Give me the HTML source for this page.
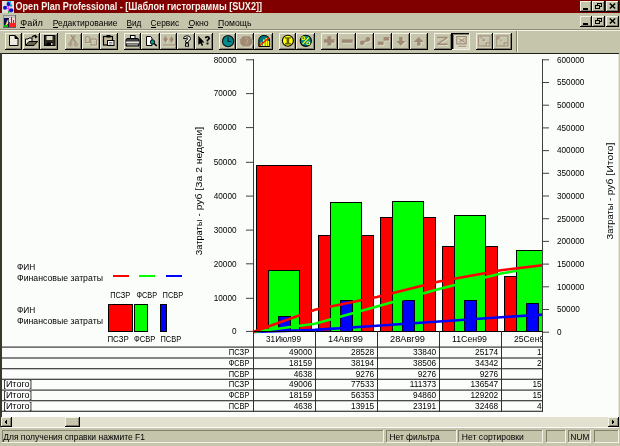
<!DOCTYPE html>
<html><head><meta charset="utf-8"><style>
html,body{margin:0;padding:0;width:620px;height:446px;overflow:hidden;background:#c5c5ab}
svg{display:block;will-change:transform}
</style></head><body>
<svg width="620" height="446" viewBox="0 0 620 446" shape-rendering="crispEdges">
<rect x="0" y="0" width="620" height="446" fill="#c5c5ab" /><rect x="0" y="0" width="620" height="13" fill="#800000" /><rect x="2" y="1" width="12" height="12" fill="#e0e0e0" /><rect x="7" y="1" width="4" height="2" fill="#30d0f0" /><g shape-rendering="auto"><path d="M5 7 L11 5 M6 8 L11 10 M8.5 4 L9 12" stroke="#e040e0" stroke-width="1.2"/><circle cx="8.5" cy="4" r="2" fill="#0818c8"/><circle cx="5" cy="7.8" r="2" fill="#0818c8"/><circle cx="11.2" cy="10.3" r="2.1" fill="#0818c8"/><circle cx="11" cy="5.5" r="1.2" fill="#00a0d0"/><circle cx="8.8" cy="12" r="0.9" fill="#00b000"/></g><text x="15.5" y="10.0" font-family="Liberation Sans" font-size="10.6" font-weight="bold" textLength="246.5" lengthAdjust="spacingAndGlyphs" fill="#f4f4ec" >Open Plan Professional - [Шаблон гистограммы [SUX2]]</text><rect x="580" y="1" width="12" height="11" fill="#c5c5ab" /><rect x="580" y="1" width="12" height="1" fill="#f2f1e4" /><rect x="580" y="1" width="1" height="11" fill="#f2f1e4" /><rect x="580" y="11" width="12" height="1" fill="#000" /><rect x="591" y="1" width="1" height="11" fill="#000" /><rect x="581" y="10" width="10" height="1" fill="#83816e" /><rect x="590" y="2" width="1" height="9" fill="#83816e" /><rect x="592" y="1" width="13" height="11" fill="#c5c5ab" /><rect x="592" y="1" width="13" height="1" fill="#f2f1e4" /><rect x="592" y="1" width="1" height="11" fill="#f2f1e4" /><rect x="592" y="11" width="13" height="1" fill="#000" /><rect x="604" y="1" width="1" height="11" fill="#000" /><rect x="593" y="10" width="11" height="1" fill="#83816e" /><rect x="603" y="2" width="1" height="9" fill="#83816e" /><rect x="606" y="1" width="13" height="11" fill="#c5c5ab" /><rect x="606" y="1" width="13" height="1" fill="#f2f1e4" /><rect x="606" y="1" width="1" height="11" fill="#f2f1e4" /><rect x="606" y="11" width="13" height="1" fill="#000" /><rect x="618" y="1" width="1" height="11" fill="#000" /><rect x="607" y="10" width="11" height="1" fill="#83816e" /><rect x="617" y="2" width="1" height="9" fill="#83816e" /><rect x="583" y="8" width="5" height="2" fill="#000" /><rect x="597.5" y="3.5" width="4" height="3" fill="none" stroke="#000" stroke-width="1"/><rect x="597" y="3" width="5" height="1" fill="#000" /><rect x="595.5" y="5.5" width="4" height="3" fill="#c5c5ab" stroke="#000" stroke-width="1"/><rect x="595" y="5" width="5" height="1" fill="#000" /><path d="M609.8 3.5 L615.2 8.5 M615.2 3.5 L609.8 8.5" stroke="#000" stroke-width="1.5" shape-rendering="auto"/><rect x="3" y="15" width="13" height="13" fill="#c8c8c0" /><rect x="3" y="15" width="13" height="1" fill="#909090" /><rect x="3" y="15" width="1" height="13" fill="#909090" /><rect x="3" y="27" width="13" height="1" fill="#606060" /><rect x="15" y="15" width="1" height="13" fill="#606060" /><rect x="4" y="18" width="5" height="9" fill="#101050" /><path d="M5 26 L7 21 L8.5 19 L8 24 Z" fill="#f0e070" shape-rendering="auto"/><rect x="4" y="25" width="4" height="2" fill="#00c000" /><rect x="9" y="18" width="6" height="9" fill="#f8d0d0" /><path d="M9 27 V22 H10 V27 M11 27 V17 H12 V27 M13 27 V20 H14 V27" fill="#ff0000"/><rect x="9" y="23" width="6" height="4" fill="#ff2020" /><text x="20.3" y="25.8" font-family="Liberation Sans" font-size="9.4" textLength="22.6" lengthAdjust="spacingAndGlyphs" fill="#000" >Файл</text><rect x="20.3" y="26.6" width="5" height="1" fill="#000" /><text x="52.8" y="25.8" font-family="Liberation Sans" font-size="9.4" textLength="64.8" lengthAdjust="spacingAndGlyphs" fill="#000" >Редактирование</text><rect x="52.8" y="26.6" width="5" height="1" fill="#000" /><text x="126.5" y="25.8" font-family="Liberation Sans" font-size="9.4" textLength="14.9" lengthAdjust="spacingAndGlyphs" fill="#000" >Вид</text><rect x="126.5" y="26.6" width="5" height="1" fill="#000" /><text x="150.6" y="25.8" font-family="Liberation Sans" font-size="9.4" textLength="28.5" lengthAdjust="spacingAndGlyphs" fill="#000" >Сервис</text><rect x="150.6" y="26.6" width="5" height="1" fill="#000" /><text x="188.4" y="25.8" font-family="Liberation Sans" font-size="9.4" textLength="20.3" lengthAdjust="spacingAndGlyphs" fill="#000" >Окно</text><rect x="188.4" y="26.6" width="5" height="1" fill="#000" /><text x="218" y="25.8" font-family="Liberation Sans" font-size="9.4" textLength="33.4" lengthAdjust="spacingAndGlyphs" fill="#000" >Помощь</text><rect x="218" y="26.6" width="5" height="1" fill="#000" /><rect x="580" y="16" width="12" height="11" fill="#c5c5ab" /><rect x="580" y="16" width="12" height="1" fill="#f2f1e4" /><rect x="580" y="16" width="1" height="11" fill="#f2f1e4" /><rect x="580" y="26" width="12" height="1" fill="#000" /><rect x="591" y="16" width="1" height="11" fill="#000" /><rect x="581" y="25" width="10" height="1" fill="#83816e" /><rect x="590" y="17" width="1" height="9" fill="#83816e" /><rect x="592" y="16" width="13" height="11" fill="#c5c5ab" /><rect x="592" y="16" width="13" height="1" fill="#f2f1e4" /><rect x="592" y="16" width="1" height="11" fill="#f2f1e4" /><rect x="592" y="26" width="13" height="1" fill="#000" /><rect x="604" y="16" width="1" height="11" fill="#000" /><rect x="593" y="25" width="11" height="1" fill="#83816e" /><rect x="603" y="17" width="1" height="9" fill="#83816e" /><rect x="606" y="16" width="13" height="11" fill="#c5c5ab" /><rect x="606" y="16" width="13" height="1" fill="#f2f1e4" /><rect x="606" y="16" width="1" height="11" fill="#f2f1e4" /><rect x="606" y="26" width="13" height="1" fill="#000" /><rect x="618" y="16" width="1" height="11" fill="#000" /><rect x="607" y="25" width="11" height="1" fill="#83816e" /><rect x="617" y="17" width="1" height="9" fill="#83816e" /><rect x="583" y="23" width="5" height="2" fill="#000" /><rect x="597.5" y="18.5" width="4" height="3" fill="none" stroke="#000" stroke-width="1"/><rect x="597" y="18" width="5" height="1" fill="#000" /><rect x="595.5" y="20.5" width="4" height="3" fill="#c5c5ab" stroke="#000" stroke-width="1"/><rect x="595" y="20" width="5" height="1" fill="#000" /><path d="M609.8 18.5 L615.2 23.5 M615.2 18.5 L609.8 23.5" stroke="#000" stroke-width="1.5" shape-rendering="auto"/><rect x="0" y="29" width="620" height="1" fill="#8e8c78" /><rect x="0" y="30" width="620" height="1" fill="#f2f1e4" /><rect x="5" y="33" width="17" height="17" fill="#c5c5ab" /><rect x="5" y="33" width="17" height="1" fill="#f2f1e4" /><rect x="5" y="33" width="1" height="17" fill="#f2f1e4" /><rect x="5" y="49" width="17" height="1" fill="#000" /><rect x="21" y="33" width="1" height="17" fill="#000" /><rect x="6" y="48" width="15" height="1" fill="#83816e" /><rect x="20" y="34" width="1" height="15" fill="#83816e" /><g shape-rendering="auto"><path d="M9.5 35.5 H15 L18 38.5 V45.5 H9.5 Z" fill="#ecebdf" stroke="#000"/><path d="M15 35.5 L18 38.5 H15 Z" fill="#000" stroke="#000"/></g><rect x="23" y="33" width="17" height="17" fill="#c5c5ab" /><rect x="23" y="33" width="17" height="1" fill="#f2f1e4" /><rect x="23" y="33" width="1" height="17" fill="#f2f1e4" /><rect x="23" y="49" width="17" height="1" fill="#000" /><rect x="39" y="33" width="1" height="17" fill="#000" /><rect x="24" y="48" width="15" height="1" fill="#83816e" /><rect x="38" y="34" width="1" height="15" fill="#83816e" /><g shape-rendering="auto"><path d="M25.5 45 V39 H28 L29 38 H32 V41" fill="#ecead8" stroke="#000"/><path d="M25.5 45.5 L29 41.5 H37.5 L34 45.5 Z" fill="#6c6448" stroke="#000"/><path d="M32 37.5 Q33.5 35 36 36" fill="none" stroke="#000" stroke-width="1.3"/><path d="M35 34.5 L37.8 37 L35 38.5 Z" fill="#000"/></g><rect x="40" y="33" width="18" height="17" fill="#c5c5ab" /><rect x="40" y="33" width="18" height="1" fill="#f2f1e4" /><rect x="40" y="33" width="1" height="17" fill="#f2f1e4" /><rect x="40" y="49" width="18" height="1" fill="#000" /><rect x="57" y="33" width="1" height="17" fill="#000" /><rect x="41" y="48" width="16" height="1" fill="#83816e" /><rect x="56" y="34" width="1" height="15" fill="#83816e" /><g shape-rendering="auto"><rect x="44.5" y="35.5" width="10.5" height="10" fill="#2c2a1e" stroke="#000"/><rect x="46.5" y="36" width="6" height="4" fill="#dcd8c4"/><rect x="46.5" y="42.5" width="6" height="3" fill="#000"/><rect x="51" y="43" width="1.5" height="2" fill="#c8c4b0"/></g><rect x="65" y="33" width="17" height="17" fill="#c5c5ab" /><rect x="65" y="33" width="17" height="1" fill="#f2f1e4" /><rect x="65" y="33" width="1" height="17" fill="#f2f1e4" /><rect x="65" y="49" width="17" height="1" fill="#000" /><rect x="81" y="33" width="1" height="17" fill="#000" /><rect x="66" y="48" width="15" height="1" fill="#83816e" /><rect x="80" y="34" width="1" height="15" fill="#83816e" /><g shape-rendering="auto"><g transform="translate(1,1)" fill="#f2f1e4" opacity="0.45"><path d="M71 35 L75.6 42.6" stroke="#a08a74" stroke-width="1.1" fill="none"/><path d="M74.6 35 L70 42.6" stroke="#a08a74" stroke-width="1.1" fill="none"/><circle cx="70" cy="44.2" r="1.4" fill="none" stroke="#a08a74" stroke-width="0.9"/><circle cx="75.6" cy="44.2" r="1.4" fill="none" stroke="#a08a74" stroke-width="0.9"/></g><g fill="#a08a74"><path d="M71 35 L75.6 42.6" stroke="#a08a74" stroke-width="1.1" fill="none"/><path d="M74.6 35 L70 42.6" stroke="#a08a74" stroke-width="1.1" fill="none"/><circle cx="70" cy="44.2" r="1.4" fill="none" stroke="#a08a74" stroke-width="0.9"/><circle cx="75.6" cy="44.2" r="1.4" fill="none" stroke="#a08a74" stroke-width="0.9"/></g></g><rect x="82" y="33" width="18" height="17" fill="#c5c5ab" /><rect x="82" y="33" width="18" height="1" fill="#f2f1e4" /><rect x="82" y="33" width="1" height="17" fill="#f2f1e4" /><rect x="82" y="49" width="18" height="1" fill="#000" /><rect x="99" y="33" width="1" height="17" fill="#000" /><rect x="83" y="48" width="16" height="1" fill="#83816e" /><rect x="98" y="34" width="1" height="15" fill="#83816e" /><g shape-rendering="auto"><g transform="translate(1,1)" fill="#f2f1e4" opacity="0.45"><path d="M85.3 36.2 H89 L90.3 37.5 V43 H85.3 Z M86.3 37.2 V42 H89.3 V38 L88.5 37.2 Z M90.5 38.4 H95.8 L97.1 39.7 V45.4 H90.5 Z M91.5 39.4 V44.4 H96.1 V40.2 L95.3 39.4 Z" fill-rule="evenodd"/></g><g fill="#a08a74"><path d="M85.3 36.2 H89 L90.3 37.5 V43 H85.3 Z M86.3 37.2 V42 H89.3 V38 L88.5 37.2 Z M90.5 38.4 H95.8 L97.1 39.7 V45.4 H90.5 Z M91.5 39.4 V44.4 H96.1 V40.2 L95.3 39.4 Z" fill-rule="evenodd"/></g></g><rect x="100" y="33" width="18" height="17" fill="#c5c5ab" /><rect x="100" y="33" width="18" height="1" fill="#f2f1e4" /><rect x="100" y="33" width="1" height="17" fill="#f2f1e4" /><rect x="100" y="49" width="18" height="1" fill="#000" /><rect x="117" y="33" width="1" height="17" fill="#000" /><rect x="101" y="48" width="16" height="1" fill="#83816e" /><rect x="116" y="34" width="1" height="15" fill="#83816e" /><g shape-rendering="auto"><rect x="103.5" y="36.5" width="9" height="8.5" fill="#c0b898" stroke="#000" stroke-width="1.2"/><rect x="106.5" y="35" width="4" height="2.5" fill="#000"/><rect x="107.5" y="40.5" width="6.5" height="5" fill="#fff" stroke="#000"/><path d="M109 42.5 H112.5 M109 44 H112.5" stroke="#606060" stroke-width="0.8"/></g><rect x="124" y="33" width="17" height="17" fill="#c5c5ab" /><rect x="124" y="33" width="17" height="1" fill="#f2f1e4" /><rect x="124" y="33" width="1" height="17" fill="#f2f1e4" /><rect x="124" y="49" width="17" height="1" fill="#000" /><rect x="140" y="33" width="1" height="17" fill="#000" /><rect x="125" y="48" width="15" height="1" fill="#83816e" /><rect x="139" y="34" width="1" height="15" fill="#83816e" /><g shape-rendering="auto"><rect x="130.5" y="35.5" width="4.5" height="3" fill="#fff" stroke="#000"/><path d="M126 46 V40 Q126 38.5 128 38.5 H137 Q139 38.5 139 40 V46 Z" fill="#404040" stroke="#000"/><rect x="126" y="41.5" width="13" height="1.8" fill="#e8e8e0"/><rect x="127" y="44" width="11" height="1.5" fill="#909088"/></g><rect x="141" y="33" width="19" height="17" fill="#c5c5ab" /><rect x="141" y="33" width="19" height="1" fill="#f2f1e4" /><rect x="141" y="33" width="1" height="17" fill="#f2f1e4" /><rect x="141" y="49" width="19" height="1" fill="#000" /><rect x="159" y="33" width="1" height="17" fill="#000" /><rect x="142" y="48" width="17" height="1" fill="#83816e" /><rect x="158" y="34" width="1" height="15" fill="#83816e" /><g shape-rendering="auto"><path d="M146.5 36.5 H150.5 L152 38 V45.5 H146.5 Z" fill="#fff" stroke="#000"/><circle cx="152.5" cy="42" r="2.2" fill="#009890" stroke="#000" stroke-width="0.9"/><path d="M154 43.5 L156.8 45.8" stroke="#000" stroke-width="1.6"/></g><rect x="160" y="33" width="17" height="17" fill="#c5c5ab" /><rect x="160" y="33" width="17" height="1" fill="#f2f1e4" /><rect x="160" y="33" width="1" height="17" fill="#f2f1e4" /><rect x="160" y="49" width="17" height="1" fill="#000" /><rect x="176" y="33" width="1" height="17" fill="#000" /><rect x="161" y="48" width="15" height="1" fill="#83816e" /><rect x="175" y="34" width="1" height="15" fill="#83816e" /><g shape-rendering="auto"><g transform="translate(1,1)" fill="#f2f1e4" opacity="0.45"><path d="M163 38.5 H164.5 V36.5 H166.5 V38.5 H168.2 L165.6 43 Z M169 40.5 L171.6 36 L174.3 40.5 H172.6 V42.5 H170.6 V40.5 Z M163 44.5 H175 V45.5 H163 Z"/></g><g fill="#a08a74"><path d="M163 38.5 H164.5 V36.5 H166.5 V38.5 H168.2 L165.6 43 Z M169 40.5 L171.6 36 L174.3 40.5 H172.6 V42.5 H170.6 V40.5 Z M163 44.5 H175 V45.5 H163 Z"/></g></g><rect x="177" y="33" width="18" height="17" fill="#c5c5ab" /><rect x="177" y="33" width="18" height="1" fill="#f2f1e4" /><rect x="177" y="33" width="1" height="17" fill="#f2f1e4" /><rect x="177" y="49" width="18" height="1" fill="#000" /><rect x="194" y="33" width="1" height="17" fill="#000" /><rect x="178" y="48" width="16" height="1" fill="#83816e" /><rect x="193" y="34" width="1" height="15" fill="#83816e" /><g shape-rendering="auto"><path d="M183.5 38.5 Q183.5 35.8 187 35.8 Q190.5 35.8 190.5 38.5 Q190.5 40.2 188.3 41.2 V42.5 H185.7 V40.5 Q187.8 39.8 187.8 38.6 Q187.8 37.6 187 37.6 Q186.2 37.6 186.2 38.6 Z" fill="#fff" stroke="#000" stroke-width="1"/><rect x="185.5" y="43.8" width="3" height="2.4" fill="#fff" stroke="#000" stroke-width="1"/></g><rect x="195" y="33" width="18" height="17" fill="#c5c5ab" /><rect x="195" y="33" width="18" height="1" fill="#f2f1e4" /><rect x="195" y="33" width="1" height="17" fill="#f2f1e4" /><rect x="195" y="49" width="18" height="1" fill="#000" /><rect x="212" y="33" width="1" height="17" fill="#000" /><rect x="196" y="48" width="16" height="1" fill="#83816e" /><rect x="211" y="34" width="1" height="15" fill="#83816e" /><g shape-rendering="auto"><path d="M198.3 35.8 V45 L200.4 43.2 L202 46 L203.2 45.3 L201.8 42.5 H204.5 Z" fill="#000"/><path d="M204.8 38.3 Q204.8 36 207.4 36 Q210 36 210 38.3 Q210 39.7 208.3 40.5 V41.6 H206.6 V39.8 Q208.2 39.3 208.2 38.3 Q208.2 37.5 207.4 37.5 Q206.6 37.5 206.6 38.3 Z" fill="#000"/><rect x="206.5" y="42.6" width="2" height="1.8" fill="#000"/></g><rect x="219" y="33" width="17" height="17" fill="#c5c5ab" /><rect x="219" y="33" width="17" height="1" fill="#f2f1e4" /><rect x="219" y="33" width="1" height="17" fill="#f2f1e4" /><rect x="219" y="49" width="17" height="1" fill="#000" /><rect x="235" y="33" width="1" height="17" fill="#000" /><rect x="220" y="48" width="15" height="1" fill="#83816e" /><rect x="234" y="34" width="1" height="15" fill="#83816e" /><g shape-rendering="auto"><circle cx="228.1" cy="41.2" r="5.6" fill="#008a90" stroke="#101010" stroke-width="1.1"/><path d="M228.1 37.3 V41.5 H231.3" fill="none" stroke="#002020" stroke-width="1.2"/></g><rect x="236" y="33" width="18" height="17" fill="#c5c5ab" /><rect x="236" y="33" width="18" height="1" fill="#f2f1e4" /><rect x="236" y="33" width="1" height="17" fill="#f2f1e4" /><rect x="236" y="49" width="18" height="1" fill="#000" /><rect x="253" y="33" width="1" height="17" fill="#000" /><rect x="237" y="48" width="16" height="1" fill="#83816e" /><rect x="252" y="34" width="1" height="15" fill="#83816e" /><g shape-rendering="auto"><g transform="translate(1,1)" fill="#f2f1e4" opacity="0.45"><path d="M243 36.3 H249.5 L252.3 39.5 V43.5 L249.5 46.5 H243 L240.2 43.5 V39.5 Z"/></g><g fill="#a08a74"><path d="M243 36.3 H249.5 L252.3 39.5 V43.5 L249.5 46.5 H243 L240.2 43.5 V39.5 Z"/></g><path d="M245 38.5 Q247 37.5 248 39.5 L247 42 L246 44.5" fill="none" stroke="#b8ad98" stroke-width="1"/></g><rect x="254" y="33" width="19" height="17" fill="#c5c5ab" /><rect x="254" y="33" width="19" height="1" fill="#f2f1e4" /><rect x="254" y="33" width="1" height="17" fill="#f2f1e4" /><rect x="254" y="49" width="19" height="1" fill="#000" /><rect x="272" y="33" width="1" height="17" fill="#000" /><rect x="255" y="48" width="17" height="1" fill="#83816e" /><rect x="271" y="34" width="1" height="15" fill="#83816e" /><g shape-rendering="auto"><path d="M258.8 46.5 V41 Q258.8 35.5 264.2 35.5 Q269.6 35.5 269.6 41 V46.5 Z" fill="#007880" stroke="#000"/><rect x="260.5" y="42.5" width="1.8" height="3.5" fill="#ffff00"/><rect x="263" y="39.5" width="1.8" height="6.5" fill="#ffff00"/><rect x="265.5" y="38" width="1.8" height="8" fill="#ffff00"/><rect x="267.8" y="41" width="1.4" height="5" fill="#ffff00"/><path d="M259.8 45.5 L269 37.8" stroke="#ff1000" stroke-width="1.4"/></g><rect x="279" y="33" width="17" height="17" fill="#c5c5ab" /><rect x="279" y="33" width="17" height="1" fill="#f2f1e4" /><rect x="279" y="33" width="1" height="17" fill="#f2f1e4" /><rect x="279" y="49" width="17" height="1" fill="#000" /><rect x="295" y="33" width="1" height="17" fill="#000" /><rect x="280" y="48" width="15" height="1" fill="#83816e" /><rect x="294" y="34" width="1" height="15" fill="#83816e" /><g shape-rendering="auto"><circle cx="287.9" cy="40.8" r="5.5" fill="#ffff00" stroke="#000" stroke-width="1.1"/><path d="M285 37.3 H290.8 V38.6 H289.2 V43.1 H290.8 V44.4 H285 V43.1 H286.6 V38.6 H285 Z" fill="#686000"/></g><rect x="296" y="33" width="19" height="17" fill="#c5c5ab" /><rect x="296" y="33" width="19" height="1" fill="#f2f1e4" /><rect x="296" y="33" width="1" height="17" fill="#f2f1e4" /><rect x="296" y="49" width="19" height="1" fill="#000" /><rect x="314" y="33" width="1" height="17" fill="#000" /><rect x="297" y="48" width="17" height="1" fill="#83816e" /><rect x="313" y="34" width="1" height="15" fill="#83816e" /><g shape-rendering="auto"><circle cx="305.8" cy="40.8" r="5.6" fill="#008a90" stroke="#000" stroke-width="1.1"/><circle cx="303.3" cy="38.3" r="1.5" fill="none" stroke="#ffff00" stroke-width="1.1"/><circle cx="308.3" cy="43.3" r="1.5" fill="none" stroke="#ffff00" stroke-width="1.1"/><path d="M302.5 44.2 L309 37.4" stroke="#ffff00" stroke-width="1.2"/></g><rect x="321" y="33" width="17" height="17" fill="#c5c5ab" /><rect x="321" y="33" width="17" height="1" fill="#f2f1e4" /><rect x="321" y="33" width="1" height="17" fill="#f2f1e4" /><rect x="321" y="49" width="17" height="1" fill="#000" /><rect x="337" y="33" width="1" height="17" fill="#000" /><rect x="322" y="48" width="15" height="1" fill="#83816e" /><rect x="336" y="34" width="1" height="15" fill="#83816e" /><g shape-rendering="auto"><g transform="translate(1,1)" fill="#f2f1e4" opacity="0.45"><path d="M327.4 36.2 H331.3 V39.3 H334.4 V42.8 H331.3 V45.4 H327.4 V42.8 H323.9 V39.3 H327.4 Z"/></g><g fill="#a08a74"><path d="M327.4 36.2 H331.3 V39.3 H334.4 V42.8 H331.3 V45.4 H327.4 V42.8 H323.9 V39.3 H327.4 Z"/></g></g><rect x="338" y="33" width="18" height="17" fill="#c5c5ab" /><rect x="338" y="33" width="18" height="1" fill="#f2f1e4" /><rect x="338" y="33" width="1" height="17" fill="#f2f1e4" /><rect x="338" y="49" width="18" height="1" fill="#000" /><rect x="355" y="33" width="1" height="17" fill="#000" /><rect x="339" y="48" width="16" height="1" fill="#83816e" /><rect x="354" y="34" width="1" height="15" fill="#83816e" /><g shape-rendering="auto"><g transform="translate(1,1)" fill="#f2f1e4" opacity="0.45"><rect x="341.8" y="39.3" width="10.9" height="3.5"/></g><g fill="#a08a74"><rect x="341.8" y="39.3" width="10.9" height="3.5"/></g></g><rect x="356" y="33" width="18" height="17" fill="#c5c5ab" /><rect x="356" y="33" width="18" height="1" fill="#f2f1e4" /><rect x="356" y="33" width="1" height="17" fill="#f2f1e4" /><rect x="356" y="49" width="18" height="1" fill="#000" /><rect x="373" y="33" width="1" height="17" fill="#000" /><rect x="357" y="48" width="16" height="1" fill="#83816e" /><rect x="372" y="34" width="1" height="15" fill="#83816e" /><g shape-rendering="auto"><g transform="translate(1,1)" fill="#f2f1e4" opacity="0.45"><circle cx="362.2" cy="42.8" r="2.3"/><circle cx="367.9" cy="39.3" r="2.3"/><path d="M363 41 L367 40 L367.5 41.5 L363.5 42.5 Z"/></g><g fill="#a08a74"><circle cx="362.2" cy="42.8" r="2.3"/><circle cx="367.9" cy="39.3" r="2.3"/><path d="M363 41 L367 40 L367.5 41.5 L363.5 42.5 Z"/></g></g><rect x="374" y="33" width="18" height="17" fill="#c5c5ab" /><rect x="374" y="33" width="18" height="1" fill="#f2f1e4" /><rect x="374" y="33" width="1" height="17" fill="#f2f1e4" /><rect x="374" y="49" width="18" height="1" fill="#000" /><rect x="391" y="33" width="1" height="17" fill="#000" /><rect x="375" y="48" width="16" height="1" fill="#83816e" /><rect x="390" y="34" width="1" height="15" fill="#83816e" /><g shape-rendering="auto"><g transform="translate(1,1)" fill="#f2f1e4" opacity="0.45"><rect x="377.8" y="41.5" width="5.7" height="3.4"/><rect x="383.5" y="37.1" width="5.6" height="3.5"/></g><g fill="#a08a74"><rect x="377.8" y="41.5" width="5.7" height="3.4"/><rect x="383.5" y="37.1" width="5.6" height="3.5"/></g></g><rect x="392" y="33" width="18" height="17" fill="#c5c5ab" /><rect x="392" y="33" width="18" height="1" fill="#f2f1e4" /><rect x="392" y="33" width="1" height="17" fill="#f2f1e4" /><rect x="392" y="49" width="18" height="1" fill="#000" /><rect x="409" y="33" width="1" height="17" fill="#000" /><rect x="393" y="48" width="16" height="1" fill="#83816e" /><rect x="408" y="34" width="1" height="15" fill="#83816e" /><g shape-rendering="auto"><g transform="translate(1,1)" fill="#f2f1e4" opacity="0.45"><path d="M399.1 37.1 H402.6 V41 H405.7 L400.9 45.8 L396.1 41 H399.1 Z"/></g><g fill="#a08a74"><path d="M399.1 37.1 H402.6 V41 H405.7 L400.9 45.8 L396.1 41 H399.1 Z"/></g></g><rect x="410" y="33" width="18" height="17" fill="#c5c5ab" /><rect x="410" y="33" width="18" height="1" fill="#f2f1e4" /><rect x="410" y="33" width="1" height="17" fill="#f2f1e4" /><rect x="410" y="49" width="18" height="1" fill="#000" /><rect x="427" y="33" width="1" height="17" fill="#000" /><rect x="411" y="48" width="16" height="1" fill="#83816e" /><rect x="426" y="34" width="1" height="15" fill="#83816e" /><g shape-rendering="auto"><g transform="translate(1,1)" fill="#f2f1e4" opacity="0.45"><path d="M417 45.4 H420.5 V41.9 H423.5 L418.7 37.1 L413.9 41.9 H417 Z"/></g><g fill="#a08a74"><path d="M417 45.4 H420.5 V41.9 H423.5 L418.7 37.1 L413.9 41.9 H417 Z"/></g></g><rect x="434" y="33" width="18" height="17" fill="#c5c5ab" /><rect x="434" y="33" width="18" height="1" fill="#f2f1e4" /><rect x="434" y="33" width="1" height="17" fill="#f2f1e4" /><rect x="434" y="49" width="18" height="1" fill="#000" /><rect x="451" y="33" width="1" height="17" fill="#000" /><rect x="435" y="48" width="16" height="1" fill="#83816e" /><rect x="450" y="34" width="1" height="15" fill="#83816e" /><g shape-rendering="auto"><g transform="translate(1,1)" fill="#f2f1e4" opacity="0.45"><path d="M437.2 36.8 H447.5 V38.2 L439.5 43.5 H447.5 V44.9 H437.2 V43.5 L445.2 38.2 H437.2 Z"/></g><g fill="#a08a74"><path d="M437.2 36.8 H447.5 V38.2 L439.5 43.5 H447.5 V44.9 H437.2 V43.5 L445.2 38.2 H437.2 Z"/></g></g><rect x="452" y="33" width="18" height="17" fill="#d8d7c2" /><rect x="452" y="33" width="18" height="1" fill="#000" /><rect x="452" y="33" width="1" height="17" fill="#000" /><rect x="452" y="49" width="18" height="1" fill="#f2f1e4" /><rect x="469" y="33" width="1" height="17" fill="#f2f1e4" /><rect x="453" y="34" width="16" height="1" fill="#83816e" /><rect x="453" y="34" width="1" height="15" fill="#83816e" /><g shape-rendering="auto"><g transform="translate(1,1)" fill="#f2f1e4" opacity="0.45"><path d="M456.2 36 H466.8 V44.5 H456.2 Z M457.4 37.2 V43.3 H465.6 V37.2 Z M458.1 45.8 H466.2 V46.8 H458.1 Z" fill-rule="evenodd"/><path d="M458.5 38.5 L464.5 42 M458.5 42 L464.5 38.5" stroke="#a08a74" stroke-width="1"/></g><g fill="#a08a74"><path d="M456.2 36 H466.8 V44.5 H456.2 Z M457.4 37.2 V43.3 H465.6 V37.2 Z M458.1 45.8 H466.2 V46.8 H458.1 Z" fill-rule="evenodd"/><path d="M458.5 38.5 L464.5 42 M458.5 42 L464.5 38.5" stroke="#a08a74" stroke-width="1"/></g></g><rect x="476" y="33" width="17" height="17" fill="#c5c5ab" /><rect x="476" y="33" width="17" height="1" fill="#f2f1e4" /><rect x="476" y="33" width="1" height="17" fill="#f2f1e4" /><rect x="476" y="49" width="17" height="1" fill="#000" /><rect x="492" y="33" width="1" height="17" fill="#000" /><rect x="477" y="48" width="15" height="1" fill="#83816e" /><rect x="491" y="34" width="1" height="15" fill="#83816e" /><g shape-rendering="auto"><g transform="translate(1,1)" fill="#f2f1e4" opacity="0.45"><path d="M478.2 35.5 H490.5 V46.5 H478.2 Z M479.2 36.5 V45.5 H485.6 V42.6 H489.5 V36.5 Z M486.6 43.6 V45.5 H489.5 V43.6 Z M480 37 L480.8 36.5 L484.3 40 L484.3 38.5 L485 38.5 L485 41 L482.5 41 L482.5 40.3 L483.8 40.3 Z" fill-rule="evenodd"/></g><g fill="#a08a74"><path d="M478.2 35.5 H490.5 V46.5 H478.2 Z M479.2 36.5 V45.5 H485.6 V42.6 H489.5 V36.5 Z M486.6 43.6 V45.5 H489.5 V43.6 Z M480 37 L480.8 36.5 L484.3 40 L484.3 38.5 L485 38.5 L485 41 L482.5 41 L482.5 40.3 L483.8 40.3 Z" fill-rule="evenodd"/></g></g><rect x="493" y="33" width="19" height="17" fill="#c5c5ab" /><rect x="493" y="33" width="19" height="1" fill="#f2f1e4" /><rect x="493" y="33" width="1" height="17" fill="#f2f1e4" /><rect x="493" y="49" width="19" height="1" fill="#000" /><rect x="511" y="33" width="1" height="17" fill="#000" /><rect x="494" y="48" width="17" height="1" fill="#83816e" /><rect x="510" y="34" width="1" height="15" fill="#83816e" /><g shape-rendering="auto"><g transform="translate(1,1)" fill="#f2f1e4" opacity="0.45"><path d="M496.3 35.5 H508.5 V46.5 H496.3 Z M497.3 36.5 V45.5 H503.6 V42.6 H507.5 V36.5 Z M504.6 43.6 V45.5 H507.5 V43.6 Z M502 41 L501.2 41.5 L498.2 38.3 L498.2 39.8 L497.5 39.8 L497.5 37.3 L500 37.3 L500 38 L498.7 38 Z" fill-rule="evenodd"/></g><g fill="#a08a74"><path d="M496.3 35.5 H508.5 V46.5 H496.3 Z M497.3 36.5 V45.5 H503.6 V42.6 H507.5 V36.5 Z M504.6 43.6 V45.5 H507.5 V43.6 Z M502 41 L501.2 41.5 L498.2 38.3 L498.2 39.8 L497.5 39.8 L497.5 37.3 L500 37.3 L500 38 L498.7 38 Z" fill-rule="evenodd"/></g></g><rect x="516" y="31" width="1" height="21" fill="#83816e" /><rect x="517" y="31" width="1" height="21" fill="#f2f1e4" /><rect x="0" y="53" width="619" height="1" fill="#1e1c14" /><rect x="0" y="53" width="2" height="374" fill="#3a382c" /><rect x="2" y="54" width="616.6" height="374" fill="#fbfdfb" shape-rendering="auto"/><rect x="253" y="59" width="1" height="273" fill="#404040" /><rect x="246" y="330.9" width="7" height="1" fill="#404040" shape-rendering="auto"/><text x="236.5" y="334.2" font-family="Liberation Sans" font-size="8.2" text-anchor="end" fill="#000" >0</text><rect x="246" y="297.8" width="7" height="1" fill="#404040" shape-rendering="auto"/><text x="236.5" y="301.1" font-family="Liberation Sans" font-size="8.2" text-anchor="end" fill="#000" >10000</text><rect x="246" y="263.3" width="7" height="1" fill="#404040" shape-rendering="auto"/><text x="236.5" y="266.6" font-family="Liberation Sans" font-size="8.2" text-anchor="end" fill="#000" >20000</text><rect x="246" y="229.6" width="7" height="1" fill="#404040" shape-rendering="auto"/><text x="236.5" y="232.9" font-family="Liberation Sans" font-size="8.2" text-anchor="end" fill="#000" >30000</text><rect x="246" y="195.6" width="7" height="1" fill="#404040" shape-rendering="auto"/><text x="236.5" y="198.9" font-family="Liberation Sans" font-size="8.2" text-anchor="end" fill="#000" >40000</text><rect x="246" y="161.8" width="7" height="1" fill="#404040" shape-rendering="auto"/><text x="236.5" y="165.10000000000002" font-family="Liberation Sans" font-size="8.2" text-anchor="end" fill="#000" >50000</text><rect x="246" y="127.1" width="7" height="1" fill="#404040" shape-rendering="auto"/><text x="236.5" y="130.4" font-family="Liberation Sans" font-size="8.2" text-anchor="end" fill="#000" >60000</text><rect x="246" y="93.1" width="7" height="1" fill="#404040" shape-rendering="auto"/><text x="236.5" y="96.39999999999999" font-family="Liberation Sans" font-size="8.2" text-anchor="end" fill="#000" >70000</text><rect x="246" y="59.3" width="7" height="1" fill="#404040" shape-rendering="auto"/><text x="236.5" y="62.599999999999994" font-family="Liberation Sans" font-size="8.2" text-anchor="end" fill="#000" >80000</text><rect x="542" y="59" width="1" height="273" fill="#404040" /><rect x="542" y="331.7" width="7" height="1" fill="#404040" shape-rendering="auto"/><text x="557" y="335.0" font-family="Liberation Sans" font-size="8.2" fill="#000" >0</text><rect x="542" y="309.0" width="7" height="1" fill="#404040" shape-rendering="auto"/><text x="557" y="312.3" font-family="Liberation Sans" font-size="8.2" fill="#000" >50000</text><rect x="542" y="286.3" width="7" height="1" fill="#404040" shape-rendering="auto"/><text x="557" y="289.6" font-family="Liberation Sans" font-size="8.2" fill="#000" >100000</text><rect x="542" y="263.6" width="7" height="1" fill="#404040" shape-rendering="auto"/><text x="557" y="266.90000000000003" font-family="Liberation Sans" font-size="8.2" fill="#000" >150000</text><rect x="542" y="240.9" width="7" height="1" fill="#404040" shape-rendering="auto"/><text x="557" y="244.20000000000002" font-family="Liberation Sans" font-size="8.2" fill="#000" >200000</text><rect x="542" y="218.2" width="7" height="1" fill="#404040" shape-rendering="auto"/><text x="557" y="221.5" font-family="Liberation Sans" font-size="8.2" fill="#000" >250000</text><rect x="542" y="195.5" width="7" height="1" fill="#404040" shape-rendering="auto"/><text x="557" y="198.8" font-family="Liberation Sans" font-size="8.2" fill="#000" >300000</text><rect x="542" y="172.8" width="7" height="1" fill="#404040" shape-rendering="auto"/><text x="557" y="176.10000000000002" font-family="Liberation Sans" font-size="8.2" fill="#000" >350000</text><rect x="542" y="150.1" width="7" height="1" fill="#404040" shape-rendering="auto"/><text x="557" y="153.4" font-family="Liberation Sans" font-size="8.2" fill="#000" >400000</text><rect x="542" y="127.4" width="7" height="1" fill="#404040" shape-rendering="auto"/><text x="557" y="130.70000000000002" font-family="Liberation Sans" font-size="8.2" fill="#000" >450000</text><rect x="542" y="104.7" width="7" height="1" fill="#404040" shape-rendering="auto"/><text x="557" y="108.0" font-family="Liberation Sans" font-size="8.2" fill="#000" >500000</text><rect x="542" y="82.0" width="7" height="1" fill="#404040" shape-rendering="auto"/><text x="557" y="85.3" font-family="Liberation Sans" font-size="8.2" fill="#000" >550000</text><rect x="542" y="59.3" width="7" height="1" fill="#404040" shape-rendering="auto"/><text x="557" y="62.599999999999994" font-family="Liberation Sans" font-size="8.2" fill="#000" >600000</text><text transform="translate(202.4,255.2) rotate(-90)" font-family="Liberation Sans" font-size="9.8" textLength="35.5" lengthAdjust="spacingAndGlyphs" fill="#000">Затраты</text><text transform="translate(202.4,216.6) rotate(-90)" font-family="Liberation Sans" font-size="9.8" fill="#000">-</text><text transform="translate(202.4,210.3) rotate(-90)" font-family="Liberation Sans" font-size="9.8" textLength="16.8" lengthAdjust="spacingAndGlyphs" fill="#000">руб</text><text transform="translate(202.4,190.5) rotate(-90)" font-family="Liberation Sans" font-size="9.8" textLength="63.5" lengthAdjust="spacingAndGlyphs" fill="#000">[За 2 недели]</text><text transform="translate(613.1,239.5) rotate(-90)" font-family="Liberation Sans" font-size="9.8" textLength="36" lengthAdjust="spacingAndGlyphs" fill="#000">Затраты</text><text transform="translate(613.1,201) rotate(-90)" font-family="Liberation Sans" font-size="9.8" fill="#000">-</text><text transform="translate(613.1,195.3) rotate(-90)" font-family="Liberation Sans" font-size="9.8" textLength="16.5" lengthAdjust="spacingAndGlyphs" fill="#000">руб</text><text transform="translate(613.1,175.5) rotate(-90)" font-family="Liberation Sans" font-size="9.8" textLength="33" lengthAdjust="spacingAndGlyphs" fill="#000">[Итого]</text><svg x="0" y="0" width="542" height="446" overflow="hidden"><rect x="256.5" y="165.5" width="55" height="166" fill="#ff0000" stroke="#000" stroke-width="1"/><rect x="268.5" y="270.5" width="31" height="61" fill="#00ff00" stroke="#000" stroke-width="1"/><rect x="278.5" y="316.5" width="12" height="15" fill="#0000ff" stroke="#000" stroke-width="1"/><rect x="318.5" y="235.5" width="55" height="96" fill="#ff0000" stroke="#000" stroke-width="1"/><rect x="330.5" y="202.5" width="31" height="129" fill="#00ff00" stroke="#000" stroke-width="1"/><rect x="340.5" y="300.5" width="12" height="31" fill="#0000ff" stroke="#000" stroke-width="1"/><rect x="380.5" y="217.5" width="55" height="114" fill="#ff0000" stroke="#000" stroke-width="1"/><rect x="392.5" y="201.5" width="31" height="130" fill="#00ff00" stroke="#000" stroke-width="1"/><rect x="402.5" y="300.5" width="12" height="31" fill="#0000ff" stroke="#000" stroke-width="1"/><rect x="442.5" y="246.5" width="55" height="85" fill="#ff0000" stroke="#000" stroke-width="1"/><rect x="454.5" y="215.5" width="31" height="116" fill="#00ff00" stroke="#000" stroke-width="1"/><rect x="464.5" y="300.5" width="12" height="31" fill="#0000ff" stroke="#000" stroke-width="1"/><rect x="504.5" y="276.5" width="55" height="55" fill="#ff0000" stroke="#000" stroke-width="1"/><rect x="516.5" y="250.5" width="31" height="81" fill="#00ff00" stroke="#000" stroke-width="1"/><rect x="526.5" y="303.5" width="12" height="28" fill="#0000ff" stroke="#000" stroke-width="1"/><polyline points="253,332.00 315,329.90 377,325.70 439,321.50 501,317.30 563,313.41" fill="none" stroke="#0000ff" stroke-width="2.6" shape-rendering="auto"/><polyline points="253,332.00 315,323.78 377,306.49 439,289.07 501,273.52 563,262.66" fill="none" stroke="#00ff00" stroke-width="2.6" shape-rendering="auto"/><polyline points="253,332.00 315,309.82 377,296.91 439,281.59 501,270.20 563,262.73" fill="none" stroke="#ff0000" stroke-width="2.6" shape-rendering="auto"/></svg><rect x="253" y="331" width="289" height="1" fill="#000" /><rect x="2" y="346.5" width="541" height="1.2" fill="#383838" shape-rendering="auto"/><rect x="2" y="357.4" width="541" height="1.2" fill="#383838" shape-rendering="auto"/><rect x="2" y="368.1" width="541" height="1.2" fill="#383838" shape-rendering="auto"/><rect x="2" y="378.7" width="541" height="1.2" fill="#383838" shape-rendering="auto"/><rect x="2" y="389.5" width="541" height="1.2" fill="#383838" shape-rendering="auto"/><rect x="2" y="400.1" width="541" height="1.2" fill="#383838" shape-rendering="auto"/><rect x="2" y="410.7" width="541" height="1.2" fill="#383838" shape-rendering="auto"/><rect x="253" y="331" width="1" height="81" fill="#303030" /><rect x="315" y="331" width="1" height="81" fill="#303030" /><rect x="377" y="331" width="1" height="81" fill="#303030" /><rect x="439" y="331" width="1" height="81" fill="#303030" /><rect x="501" y="331" width="1" height="81" fill="#303030" /><rect x="542" y="331" width="1" height="81" fill="#303030" /><svg x="0" y="0" width="542" height="446" overflow="hidden"><text x="283.5" y="342.2" font-family="Liberation Sans" font-size="8.6" text-anchor="middle" textLength="35" lengthAdjust="spacingAndGlyphs" fill="#000" >31Июл99</text><text x="345.5" y="342.2" font-family="Liberation Sans" font-size="8.6" text-anchor="middle" textLength="35" lengthAdjust="spacingAndGlyphs" fill="#000" >14Авг99</text><text x="407.5" y="342.2" font-family="Liberation Sans" font-size="8.6" text-anchor="middle" textLength="35" lengthAdjust="spacingAndGlyphs" fill="#000" >28Авг99</text><text x="469.5" y="342.2" font-family="Liberation Sans" font-size="8.6" text-anchor="middle" textLength="35" lengthAdjust="spacingAndGlyphs" fill="#000" >11Сен99</text><text x="531.5" y="342.2" font-family="Liberation Sans" font-size="8.6" text-anchor="middle" textLength="35" lengthAdjust="spacingAndGlyphs" fill="#000" >25Сен99</text><text x="249.3" y="355.20000000000005" font-family="Liberation Sans" font-size="8.3" text-anchor="end" textLength="20.6" lengthAdjust="spacingAndGlyphs" fill="#000" >ПСЗР</text><text x="312.2" y="355.20000000000005" font-family="Liberation Sans" font-size="8.3" text-anchor="end" fill="#000" >49000</text><text x="374.2" y="355.20000000000005" font-family="Liberation Sans" font-size="8.3" text-anchor="end" fill="#000" >28528</text><text x="436.2" y="355.20000000000005" font-family="Liberation Sans" font-size="8.3" text-anchor="end" fill="#000" >33840</text><text x="498.2" y="355.20000000000005" font-family="Liberation Sans" font-size="8.3" text-anchor="end" fill="#000" >25174</text><text x="560.2" y="355.20000000000005" font-family="Liberation Sans" font-size="8.3" text-anchor="end" fill="#000" >16500</text><text x="249.3" y="366.1" font-family="Liberation Sans" font-size="8.3" text-anchor="end" textLength="20.6" lengthAdjust="spacingAndGlyphs" fill="#000" >ФСВР</text><text x="312.2" y="366.1" font-family="Liberation Sans" font-size="8.3" text-anchor="end" fill="#000" >18159</text><text x="374.2" y="366.1" font-family="Liberation Sans" font-size="8.3" text-anchor="end" fill="#000" >38194</text><text x="436.2" y="366.1" font-family="Liberation Sans" font-size="8.3" text-anchor="end" fill="#000" >38506</text><text x="498.2" y="366.1" font-family="Liberation Sans" font-size="8.3" text-anchor="end" fill="#000" >34342</text><text x="560.2" y="366.1" font-family="Liberation Sans" font-size="8.3" text-anchor="end" fill="#000" >24000</text><text x="249.3" y="376.8" font-family="Liberation Sans" font-size="8.3" text-anchor="end" textLength="20.6" lengthAdjust="spacingAndGlyphs" fill="#000" >ПСВР</text><text x="312.2" y="376.8" font-family="Liberation Sans" font-size="8.3" text-anchor="end" fill="#000" >4638</text><text x="374.2" y="376.8" font-family="Liberation Sans" font-size="8.3" text-anchor="end" fill="#000" >9276</text><text x="436.2" y="376.8" font-family="Liberation Sans" font-size="8.3" text-anchor="end" fill="#000" >9276</text><text x="498.2" y="376.8" font-family="Liberation Sans" font-size="8.3" text-anchor="end" fill="#000" >9276</text><text x="560.2" y="376.8" font-family="Liberation Sans" font-size="8.3" text-anchor="end" fill="#000" >8600</text><text x="3.4" y="387.40000000000003" font-family="Liberation Sans" font-size="8.8" textLength="28.6" lengthAdjust="spacingAndGlyphs" fill="#000" >[Итого]</text><text x="249.3" y="387.40000000000003" font-family="Liberation Sans" font-size="8.3" text-anchor="end" textLength="20.6" lengthAdjust="spacingAndGlyphs" fill="#000" >ПСЗР</text><text x="312.2" y="387.40000000000003" font-family="Liberation Sans" font-size="8.3" text-anchor="end" fill="#000" >49006</text><text x="374.2" y="387.40000000000003" font-family="Liberation Sans" font-size="8.3" text-anchor="end" fill="#000" >77533</text><text x="436.2" y="387.40000000000003" font-family="Liberation Sans" font-size="8.3" text-anchor="end" fill="#000" >111373</text><text x="498.2" y="387.40000000000003" font-family="Liberation Sans" font-size="8.3" text-anchor="end" fill="#000" >136547</text><text x="560.2" y="387.40000000000003" font-family="Liberation Sans" font-size="8.3" text-anchor="end" fill="#000" >153047</text><text x="3.4" y="398.20000000000005" font-family="Liberation Sans" font-size="8.8" textLength="28.6" lengthAdjust="spacingAndGlyphs" fill="#000" >[Итого]</text><text x="249.3" y="398.20000000000005" font-family="Liberation Sans" font-size="8.3" text-anchor="end" textLength="20.6" lengthAdjust="spacingAndGlyphs" fill="#000" >ФСВР</text><text x="312.2" y="398.20000000000005" font-family="Liberation Sans" font-size="8.3" text-anchor="end" fill="#000" >18159</text><text x="374.2" y="398.20000000000005" font-family="Liberation Sans" font-size="8.3" text-anchor="end" fill="#000" >56353</text><text x="436.2" y="398.20000000000005" font-family="Liberation Sans" font-size="8.3" text-anchor="end" fill="#000" >94860</text><text x="498.2" y="398.20000000000005" font-family="Liberation Sans" font-size="8.3" text-anchor="end" fill="#000" >129202</text><text x="560.2" y="398.20000000000005" font-family="Liberation Sans" font-size="8.3" text-anchor="end" fill="#000" >153202</text><text x="3.4" y="408.8" font-family="Liberation Sans" font-size="8.8" textLength="28.6" lengthAdjust="spacingAndGlyphs" fill="#000" >[Итого]</text><text x="249.3" y="408.8" font-family="Liberation Sans" font-size="8.3" text-anchor="end" textLength="20.6" lengthAdjust="spacingAndGlyphs" fill="#000" >ПСВР</text><text x="312.2" y="408.8" font-family="Liberation Sans" font-size="8.3" text-anchor="end" fill="#000" >4638</text><text x="374.2" y="408.8" font-family="Liberation Sans" font-size="8.3" text-anchor="end" fill="#000" >13915</text><text x="436.2" y="408.8" font-family="Liberation Sans" font-size="8.3" text-anchor="end" fill="#000" >23191</text><text x="498.2" y="408.8" font-family="Liberation Sans" font-size="8.3" text-anchor="end" fill="#000" >32468</text><text x="560.2" y="408.8" font-family="Liberation Sans" font-size="8.3" text-anchor="end" fill="#000" >41068</text></svg><text x="16.9" y="270.4" font-family="Liberation Sans" font-size="8.6" textLength="18.3" lengthAdjust="spacingAndGlyphs" fill="#000" >ФИН</text><text x="17" y="281" font-family="Liberation Sans" font-size="8.6" textLength="85.9" lengthAdjust="spacingAndGlyphs" fill="#000" >Финансовые затраты</text><rect x="113" y="275" width="16" height="2" fill="#ff0000" /><rect x="139" y="275" width="16" height="2" fill="#00ff00" /><rect x="166" y="275" width="16" height="2" fill="#0000ff" /><text x="110.2" y="297.5" font-family="Liberation Sans" font-size="8.3" textLength="20.1" lengthAdjust="spacingAndGlyphs" fill="#000" >ПСЗР</text><text x="136.5" y="297.5" font-family="Liberation Sans" font-size="8.3" textLength="20.5" lengthAdjust="spacingAndGlyphs" fill="#000" >ФСВР</text><text x="162.6" y="297.5" font-family="Liberation Sans" font-size="8.3" textLength="20.6" lengthAdjust="spacingAndGlyphs" fill="#000" >ПСВР</text><text x="16.9" y="312.8" font-family="Liberation Sans" font-size="8.6" textLength="18.3" lengthAdjust="spacingAndGlyphs" fill="#000" >ФИН</text><text x="17" y="323.7" font-family="Liberation Sans" font-size="8.6" textLength="85.9" lengthAdjust="spacingAndGlyphs" fill="#000" >Финансовые затраты</text><rect x="108.5" y="304.5" width="24" height="27" fill="#ff0000" stroke="#000"/><rect x="134.5" y="304.5" width="13" height="27" fill="#00ff00" stroke="#000"/><rect x="160.5" y="304.5" width="6" height="27" fill="#0000ff" stroke="#000"/><text x="107.4" y="341.5" font-family="Liberation Sans" font-size="8.3" textLength="21.3" lengthAdjust="spacingAndGlyphs" fill="#000" >ПСЗР</text><text x="133.9" y="341.5" font-family="Liberation Sans" font-size="8.3" textLength="21.4" lengthAdjust="spacingAndGlyphs" fill="#000" >ФСВР</text><text x="160.5" y="341.5" font-family="Liberation Sans" font-size="8.3" textLength="20.6" lengthAdjust="spacingAndGlyphs" fill="#000" >ПСВР</text><rect x="1" y="417" width="618" height="10" fill="#e2e1d0" /><rect x="1" y="417" width="11" height="10" fill="#c5c5ab" /><rect x="1" y="417" width="11" height="1" fill="#f2f1e4" /><rect x="1" y="417" width="1" height="10" fill="#f2f1e4" /><rect x="1" y="426" width="11" height="1" fill="#000" /><rect x="11" y="417" width="1" height="10" fill="#000" /><rect x="2" y="425" width="9" height="1" fill="#83816e" /><rect x="10" y="418" width="1" height="8" fill="#83816e" /><path d="M4.5 422 L7 419.5 L7 424.5 Z" fill="#000"/><rect x="65" y="417" width="15" height="10" fill="#c5c5ab" /><rect x="65" y="417" width="15" height="1" fill="#f2f1e4" /><rect x="65" y="417" width="1" height="10" fill="#f2f1e4" /><rect x="65" y="426" width="15" height="1" fill="#000" /><rect x="79" y="417" width="1" height="10" fill="#000" /><rect x="66" y="425" width="13" height="1" fill="#83816e" /><rect x="78" y="418" width="1" height="8" fill="#83816e" /><rect x="608" y="417" width="10.600000000000023" height="10" fill="#c5c5ab" /><rect x="608" y="417" width="10.600000000000023" height="1" fill="#f2f1e4" /><rect x="608" y="417" width="1" height="10" fill="#f2f1e4" /><rect x="608" y="426" width="10.600000000000023" height="1" fill="#000" /><rect x="617.6" y="417" width="1" height="10" fill="#000" /><rect x="609" y="425" width="8.600000000000023" height="1" fill="#83816e" /><rect x="616.6" y="418" width="1" height="8" fill="#83816e" /><path d="M614.5 422 L612 419.5 L612 424.5 Z" fill="#000"/><rect x="0" y="428" width="620" height="18" fill="#c5c5ab" /><rect x="2" y="430" width="382" height="1" fill="#83816e" /><rect x="2" y="430" width="1" height="13" fill="#83816e" /><rect x="2" y="442" width="382" height="1" fill="#f2f1e4" /><rect x="383" y="430" width="1" height="13" fill="#f2f1e4" /><rect x="386" y="430" width="71" height="1" fill="#83816e" /><rect x="386" y="430" width="1" height="13" fill="#83816e" /><rect x="386" y="442" width="71" height="1" fill="#f2f1e4" /><rect x="456" y="430" width="1" height="13" fill="#f2f1e4" /><rect x="458" y="430" width="85" height="1" fill="#83816e" /><rect x="458" y="430" width="1" height="13" fill="#83816e" /><rect x="458" y="442" width="85" height="1" fill="#f2f1e4" /><rect x="542" y="430" width="1" height="13" fill="#f2f1e4" /><rect x="546" y="430" width="20" height="1" fill="#83816e" /><rect x="546" y="430" width="1" height="13" fill="#83816e" /><rect x="546" y="442" width="20" height="1" fill="#f2f1e4" /><rect x="565" y="430" width="1" height="13" fill="#f2f1e4" /><rect x="568" y="430" width="23" height="1" fill="#83816e" /><rect x="568" y="430" width="1" height="13" fill="#83816e" /><rect x="568" y="442" width="23" height="1" fill="#f2f1e4" /><rect x="590" y="430" width="1" height="13" fill="#f2f1e4" /><rect x="594" y="430" width="25" height="1" fill="#83816e" /><rect x="594" y="430" width="1" height="13" fill="#83816e" /><rect x="594" y="442" width="25" height="1" fill="#f2f1e4" /><rect x="618" y="430" width="1" height="13" fill="#f2f1e4" /><text x="3.2" y="439.8" font-family="Liberation Sans" font-size="8.8" textLength="141.8" lengthAdjust="spacingAndGlyphs" fill="#000" >Для получения справки нажмите F1</text><text x="389.4" y="439.8" font-family="Liberation Sans" font-size="8.8" textLength="50.3" lengthAdjust="spacingAndGlyphs" fill="#000" >Нет фильтра</text><text x="461.8" y="439.8" font-family="Liberation Sans" font-size="8.8" textLength="62" lengthAdjust="spacingAndGlyphs" fill="#000" >Нет сортировки</text><text x="570.6" y="439.8" font-family="Liberation Sans" font-size="8.8" textLength="18.7" lengthAdjust="spacingAndGlyphs" fill="#000" >NUM</text>
</svg>
</body></html>
